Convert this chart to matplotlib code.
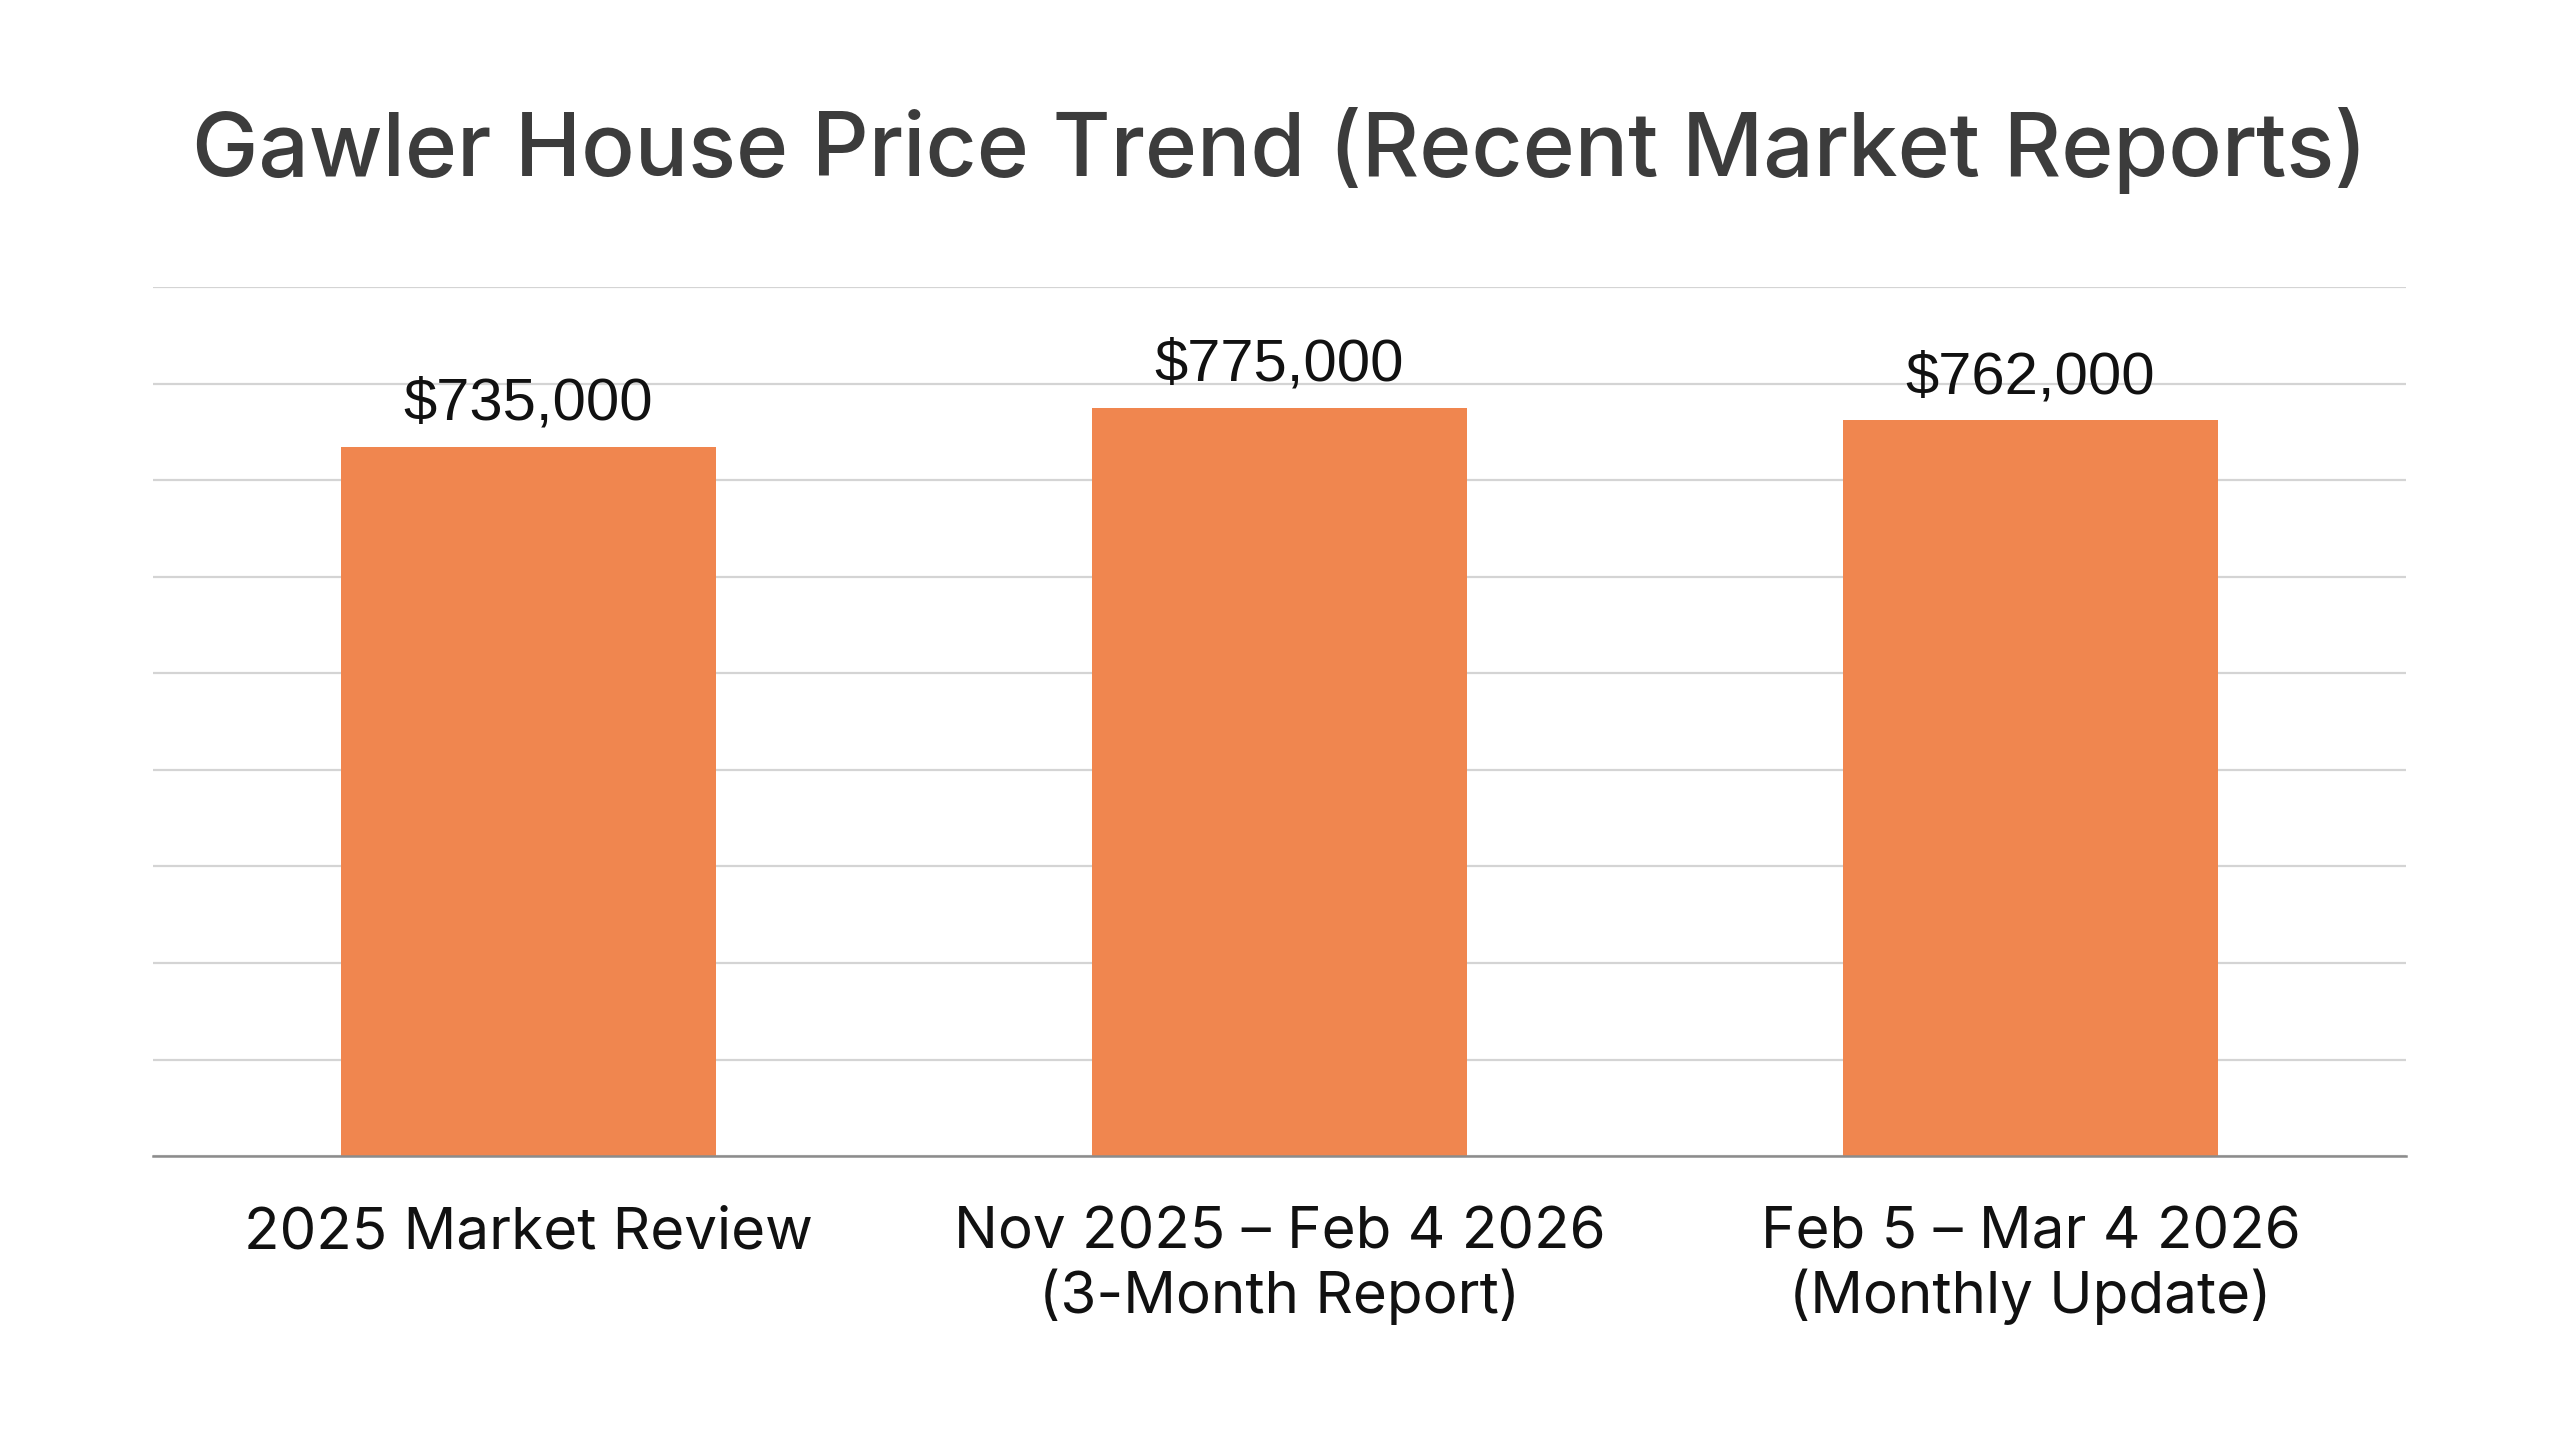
import matplotlib.pyplot as plt
import numpy as np

# data
categories = ["2025 Market Review",
              "Nov 2025 \u2013 Feb 4 2026\n(3-Month Report)",
              "Feb 5 \u2013 Mar 4 2026\n(Monthly Update)"]
prices = [735000, 775000, 762000]
price_labels = ["$735,000", "$775,000", "$762,000"]
title = "Gawler House Price Trend (Recent Market Reports)"

bar_color = "#F0864F"

fig = plt.figure(figsize=(25.6, 14.29), dpi=100)
fig.patch.set_facecolor("white")
ax = fig.add_axes([0.0598, 0.191, 0.880, 0.608])

x = np.arange(len(categories))
bars = ax.bar(x, prices, width=0.5, color=bar_color, zorder=3)

ax.set_xlim(-0.5, len(categories) - 0.5)
ax.set_ylim(0, 900000)
ax.set_yticks(np.arange(0, 900001, 100000))
ax.yaxis.grid(True, color="#d4d4d4", linewidth=1.6, zorder=0)
ax.tick_params(axis="y", left=False, labelleft=False)
for s in ["top", "right", "left"]:
    ax.spines[s].set_visible(False)
ax.spines["bottom"].set_color("#8c8c8c")
ax.spines["bottom"].set_linewidth(1.8)
ax.spines["bottom"].set_zorder(4)

ax.set_xticks(x)
ax.set_xticklabels(categories, fontsize=42, family=["Inter", "DejaVu Sans"],
                   color="#111111", linespacing=1.2)
ax.tick_params(axis="x", length=0, pad=36)

for b, lab in zip(bars, price_labels):
    ax.annotate(lab, (b.get_x() + b.get_width() / 2, b.get_height()),
                xytext=(0, 11), textcoords="offset points",
                ha="center", va="bottom", fontsize=43,
                family="Liberation Sans", color="#111111")

fig.text(0.5, 0.895, title, ha="center", va="center", fontsize=64,
         family=["Inter", "DejaVu Sans"], fontweight="medium", color="#3c3c3c")

fig.savefig("out.png", dpi=100, facecolor="white")
